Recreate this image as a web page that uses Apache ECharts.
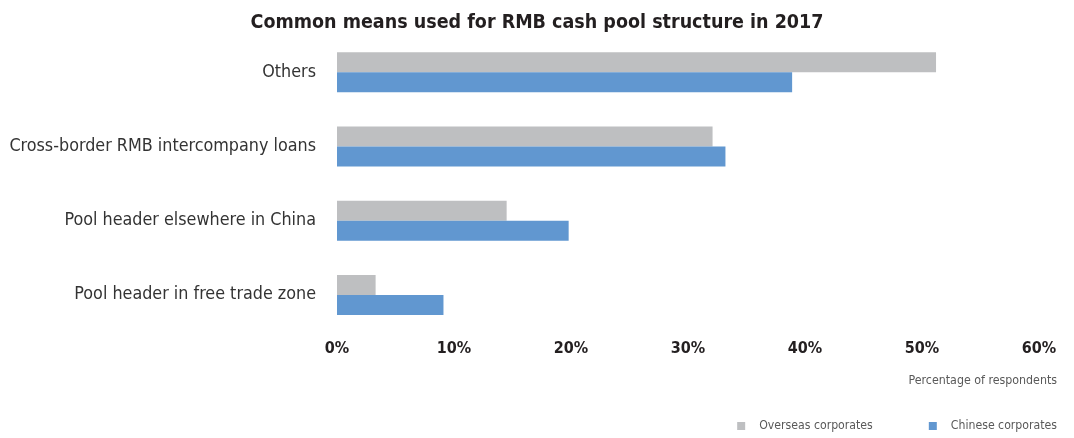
<!DOCTYPE html>
<html>
<head>
<meta charset="utf-8">
<script src="https://cdn.jsdelivr.net/npm/echarts@6/dist/echarts.min.js"></script>
<style>
  html, body { margin: 0; padding: 0; background: #ffffff; }
  #chart { width: 1074px; height: 438px; }
</style>
</head>
<body>
<div id="chart"></div>
<script>
const categories = [
  'Others',
  'Cross-border RMB intercompany loans',
  'Pool header elsewhere in China',
  'Pool header in free trade zone'
];
const overseasValues = [51.2, 32.1, 14.5, 3.3];
const chineseValues = [38.9, 33.2, 19.8, 9.1];
const seriesNames = ['Overseas corporates', 'Chinese corporates'];
const xTicks = [0, 10, 20, 30, 40, 50, 60];

const condensed = "'Liberation Sans Narrow', 'DejaVu Sans Condensed', 'Roboto', sans-serif";

const chart = echarts.init(document.getElementById('chart'), null, { renderer: 'canvas' });
chart.setOption({
  backgroundColor: '#ffffff',
  animation: false,
  title: [
    {
      text: 'Common means used for RMB cash pool structure in 2017',
      left: 'center',
      top: 8,
      textStyle: { fontFamily: condensed, fontSize: 19.5, fontWeight: 900, color: '#231f20' }
    },
    {
      text: 'Percentage of respondents',
      right: 12,
      top: 370,
      textStyle: { fontFamily: condensed, fontSize: 12.3, fontWeight: 'normal', color: '#595959' }
    }
  ],
  legend: {
    data: seriesNames,
    right: 12,
    top: 415,
    itemWidth: 8,
    itemHeight: 8,
    itemGap: 56,
    icon: 'rect',
    textStyle: { fontFamily: condensed, fontSize: 12.2, color: '#595959', padding: [0, 0, 0, 9] }
  },
  grid: { left: 337, right: 35, top: 35, height: 297, containLabel: false },
  xAxis: {
    type: 'value',
    min: xTicks[0],
    max: xTicks[xTicks.length - 1],
    interval: 10,
    axisLine: { show: false },
    axisTick: { show: false },
    splitLine: { show: false },
    axisLabel: {
      formatter: '{value}%',
      margin: 9,
      fontFamily: condensed,
      fontSize: 16,
      fontWeight: 'bold',
      color: '#231f20'
    }
  },
  yAxis: {
    type: 'category',
    data: categories,
    inverse: true,
    axisLine: { show: false },
    axisTick: { show: false },
    axisLabel: { margin: 21, fontFamily: condensed, fontSize: 17.8, color: '#333333' }
  },
  series: [
    {
      name: seriesNames[0],
      type: 'bar',
      data: overseasValues,
      barWidth: 20,
      barGap: '0%',
      barCategoryGap: '46%',
      itemStyle: { color: '#bebfc1' }
    },
    {
      name: seriesNames[1],
      type: 'bar',
      data: chineseValues,
      barWidth: 20,
      barGap: '0%',
      itemStyle: { color: '#6197d0' }
    }
  ]
});
</script>
</body>
</html>
